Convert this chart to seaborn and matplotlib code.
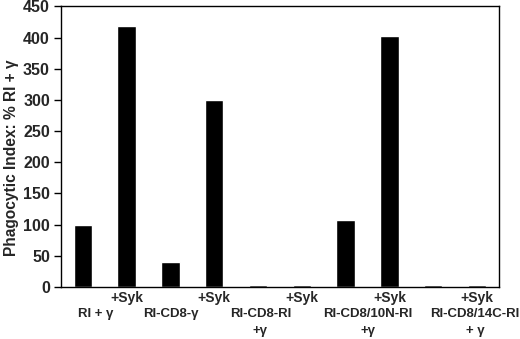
import matplotlib
matplotlib.use("Agg")
import matplotlib.pyplot as plt
import seaborn as sns
import pandas as pd

groups = ["RI + γ", "RI-CD8-γ", "RI-CD8-RI\n+γ", "RI-CD8/10N-RI\n+γ", "RI-CD8/14C-RI\n+ γ"]
treatments = ["", "+Syk"]
conditions = ["RI + γ", "RI + γ +Syk", "RI-CD8-γ", "RI-CD8-γ +Syk",
              "RI-CD8-RI +γ", "RI-CD8-RI +γ +Syk",
              "RI-CD8/10N-RI +γ", "RI-CD8/10N-RI +γ +Syk",
              "RI-CD8/14C-RI + γ", "RI-CD8/14C-RI + γ +Syk"]
values = [100, 418, 40, 300, 3, 3, 107, 403, 3, 3]
yticks = [0, 50, 100, 150, 200, 250, 300, 350, 400, 450]

sns.set_style("white")
plt.rcParams['font.family'] = ['Liberation Sans', 'DejaVu Sans']

df = pd.DataFrame({"condition": conditions, "value": values})

fig = plt.figure(figsize=(5.2, 3.39), dpi=100)
ax = fig.add_axes([0.1173, 0.1534, 0.8423, 0.8276])
sns.barplot(data=df, x="condition", y="value", color="black", width=0.42,
            saturation=1, ax=ax)
ax.set_xlim(-0.5, len(conditions) - 0.5)
ax.set_ylim(0, 450)
ax.set_yticks(yticks)
ax.set_yticklabels([str(t) for t in yticks], fontsize=11.5, fontweight="bold")
ax.tick_params(axis="y", direction="out", length=5, width=1, color="black", pad=3, left=True)
ax.tick_params(axis="x", length=0, pad=3)
ax.set_xticks(range(len(conditions)))
ax.set_xticklabels([treatments[i % 2] for i in range(len(conditions))],
                   fontsize=10, fontweight="bold")
for s in ax.spines.values():
    s.set_visible(True)
    s.set_color("black")
    s.set_linewidth(1)
ax.set_xlabel("")
ax.set_ylabel("Phagocytic Index: % RI + γ", fontsize=11.2, fontweight="bold")
ax.yaxis.set_label_coords(-0.097, 0.46)

label_pos = [0.3, 2.0, 4.05, 6.5, 8.95]
for g, p in zip(groups, label_pos):
    ax.text(p, -0.075, g, transform=ax.get_xaxis_transform(), ha="center", va="top",
            fontsize=9.5, fontweight="bold", linespacing=1.5)

fig.savefig("out.png", dpi=100)
